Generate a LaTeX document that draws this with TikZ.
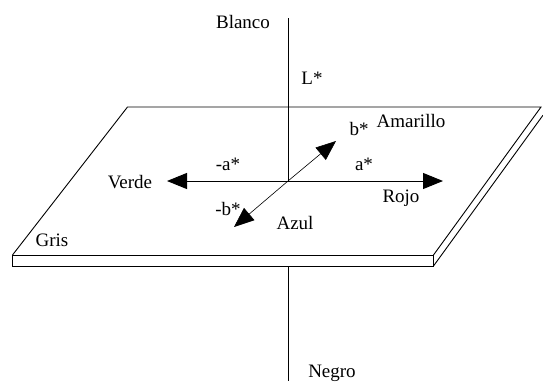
\documentclass[tikz,border=0pt]{standalone}
\usepackage{fontspec}
\setmainfont{Liberation Serif}
\usetikzlibrary{arrows.meta}
\begin{document}
\begin{tikzpicture}[x=1pt,y=-1pt,
  lbl/.style={inner sep=0pt,font=\fontsize{19}{21}\selectfont},
  edge/.style={line width=0.9pt,line join=miter},
  axis/.style={line width=1pt},
  arr/.style={line width=1pt,-{Triangle[length=20pt,width=16pt]}},
  darr/.style={line width=0.6pt,-{Triangle[length=20pt,width=16pt]}}]
\useasboundingbox[fill=white] (0,0) rectangle (543,383);
% plane
\coordinate (FL) at (12.5,255);
\coordinate (FR) at (433.5,255);
\coordinate (BR) at (541,107);
\coordinate (BL) at (127.5,107);
\coordinate (FLb) at (12.5,266);
\coordinate (FRb) at (433.5,266);
\coordinate (BRo) at (543,115.2);
\draw[edge] (FL) -- (BL) -- (BR) -- (FR);
\draw[edge] (FL) rectangle (FRb);
\draw[edge] (FRb) -- (BRo);
% axes
\coordinate (O) at (288,181);
\coordinate (Ltop) at (288,18);
\coordinate (Nup) at (288,266);
\coordinate (Nbot) at (288,381);
\coordinate (Vtip) at (167,181);
\coordinate (Rtip) at (443,181);
\coordinate (Ytip) at (336,141);
\coordinate (Btip) at (234,227);
\draw[axis] (Ltop) -- (O);
\draw[axis] (Nup) -- (Nbot);
\draw[arr] (O) -- (Vtip);
\draw[arr] (O) -- (Rtip);
\draw[darr] (O) -- (Ytip);
\draw[darr] (O) -- (Btip);
% labels
\node[lbl] (blanco) at (243,22) {Blanco};
\node[lbl] (lstar) at (312,78) {L*};
\node[lbl] (amarillo) at (411,121) {Amarillo};
\node[lbl] (bstar) at (359,129) {b*};
\node[lbl] (mastar) at (228,164) {-a*};
\node[lbl] (astar) at (364,164) {a*};
\node[lbl] (verde) at (130,182) {Verde};
\node[lbl] (rojo) at (401,198) {Rojo};
\node[lbl] (mbstar) at (228,209) {-b*};
\node[lbl] (azul) at (295,223) {Azul};
\node[lbl] (gris) at (52,240) {Gris};
\node[lbl] (negro) at (332,373) {Negro};
\end{tikzpicture}
\end{document}
